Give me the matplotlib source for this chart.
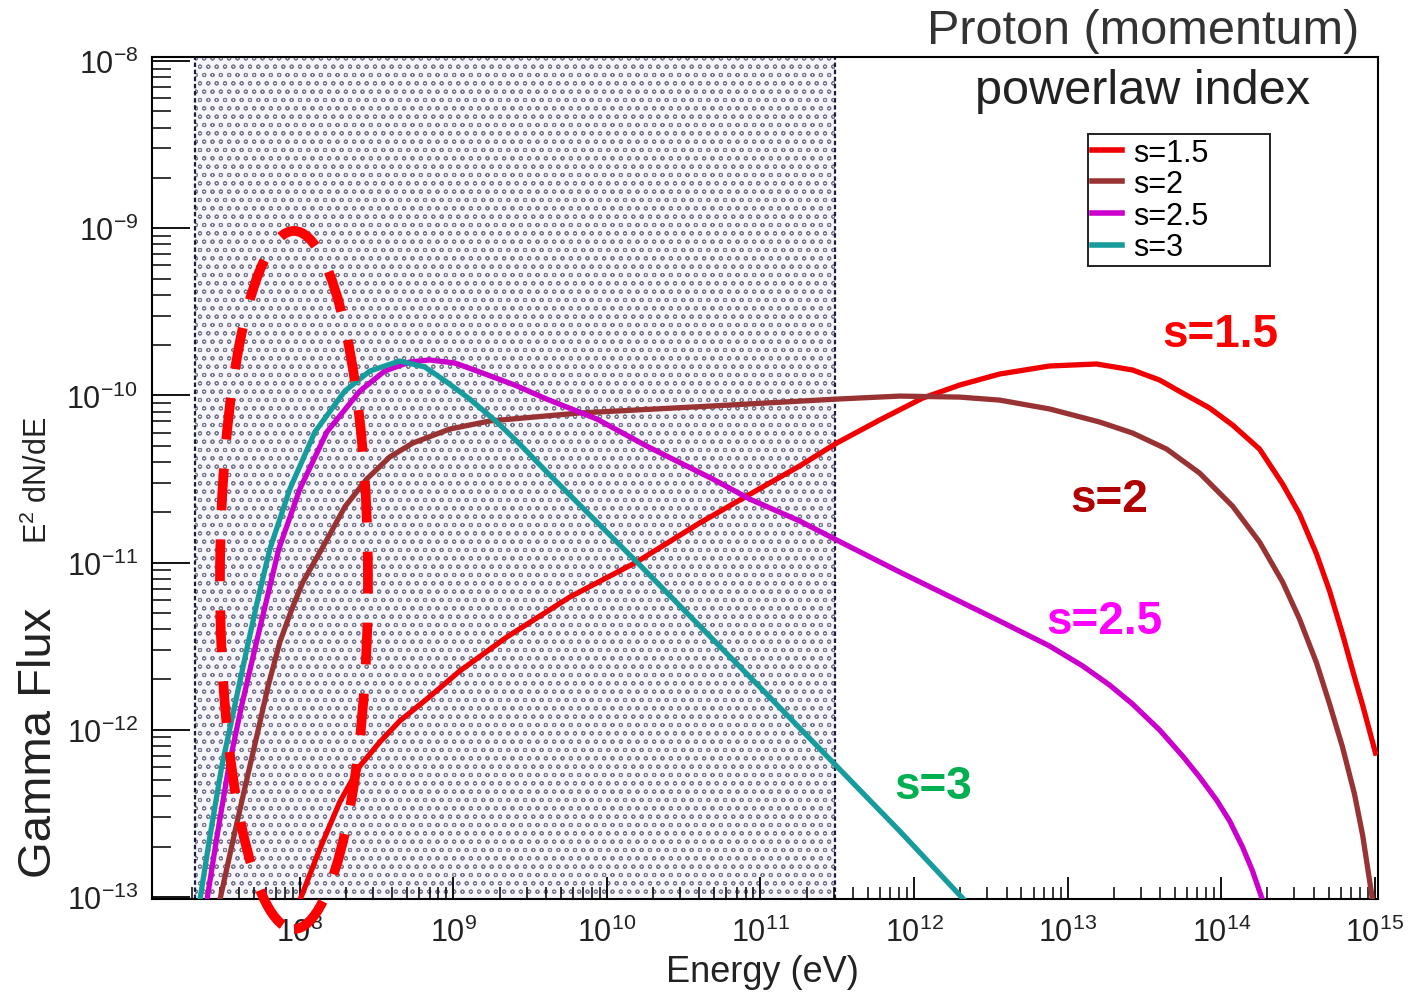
import numpy as np
import matplotlib
matplotlib.use("Agg")
import matplotlib.pyplot as plt
from matplotlib.patches import Ellipse
from matplotlib.ticker import LogLocator, LogFormatterSciNotation, NullFormatter

plt.rcParams['font.family'] = ['Liberation Sans', 'DejaVu Sans']
plt.rcParams['mathtext.fontset'] = 'custom'
plt.rcParams['mathtext.rm'] = 'Liberation Sans'
plt.rcParams['mathtext.it'] = 'Liberation Sans:italic'
plt.rcParams['mathtext.bf'] = 'Liberation Sans:bold'
plt.rcParams['hatch.linewidth'] = 0.7
plt.rcParams['hatch.color'] = '#78788c'

labels = ['s=1.5', 's=2', 's=2.5', 's=3']
line_colors = ['#f00000', '#993333', '#cc00cc', '#169c9c']
text_colors = ['#ff0000', '#b00000', '#ff00ff', '#00b050']

# curves: log10(E/eV) and log10(E^2 dN/dE)
logE_s15 = [8.000, 8.130, 8.260, 8.391, 8.521, 8.651, 8.827, 9.042, 9.348, 9.758, 10.194,
            10.604, 10.910, 11.255, 11.496, 11.776, 12.056, 12.297, 12.557, 12.883, 13.189,
            13.423, 13.599, 13.749, 13.924, 14.074, 14.250, 14.400, 14.510, 14.621, 14.706,
            14.790, 14.868, 14.921, 15.005]
logF_s15 = [-13.02, -12.713, -12.432, -12.217, -12.073, -11.947, -11.816, -11.648, -11.445,
            -11.206, -10.996, -10.763, -10.602, -10.422, -10.285, -10.147, -10.016, -9.938,
            -9.872, -9.824, -9.812, -9.848, -9.908, -9.986, -10.075, -10.177, -10.321,
            -10.530, -10.709, -10.949, -11.170, -11.427, -11.684, -11.852, -12.139]

logE_s20 = [7.479, 7.577, 7.648, 7.720, 7.792, 7.870, 7.948, 8.020, 8.150, 8.293, 8.436,
            8.586, 8.736, 8.977, 9.237, 9.823, 10.689, 11.496, 11.906, 12.297, 12.557,
            12.883, 13.208, 13.423, 13.645, 13.859, 14.074, 14.250, 14.400, 14.510, 14.621,
            14.706, 14.790, 14.868, 14.921, 14.986]
logF_s20 = [-13.02, -12.611, -12.324, -12.037, -11.744, -11.475, -11.278, -11.116, -10.907,
            -10.667, -10.500, -10.368, -10.285, -10.201, -10.153, -10.105, -10.063, -10.022,
            -10.004, -10.010, -10.028, -10.081, -10.159, -10.225, -10.321, -10.464, -10.662,
            -10.877, -11.116, -11.337, -11.600, -11.846, -12.103, -12.384, -12.629, -13.02]

logE_s25 = [7.395, 7.460, 7.538, 7.622, 7.707, 7.785, 7.863, 8.000, 8.176, 8.391, 8.553,
            8.716, 8.846, 9.009, 9.172, 9.400, 9.608, 9.934, 10.259, 10.689, 10.930, 11.255,
            11.496, 11.906, 12.557, 12.883, 13.098, 13.273, 13.423, 13.599, 13.749, 13.859,
            13.970, 14.055, 14.139, 14.204, 14.270]
logF_s25 = [-13.02, -12.641, -12.217, -11.852, -11.517, -11.218, -10.919, -10.560, -10.219,
            -9.974, -9.854, -9.800, -9.788, -9.806, -9.860, -9.938, -10.022, -10.141,
            -10.303, -10.500, -10.620, -10.751, -10.865, -11.056, -11.349, -11.499,
            -11.618, -11.732, -11.846, -12.001, -12.157, -12.282, -12.420, -12.545,
            -12.701, -12.844, -13.02]

logE_s30 = [7.349, 7.414, 7.492, 7.577, 7.655, 7.727, 7.805, 7.935, 8.098, 8.293, 8.456,
            8.651, 8.814, 8.957, 9.107, 9.283, 9.432, 9.608, 9.934, 10.194, 10.604, 11.040,
            11.470, 11.906, 12.329]
logF_s30 = [-13.02, -12.641, -12.217, -11.852, -11.517, -11.218, -10.919, -10.560, -10.219,
            -9.974, -9.854, -9.794, -9.830, -9.920, -10.022, -10.159, -10.291, -10.458,
            -10.757, -10.996, -11.379, -11.786, -12.193, -12.605, -13.02]

# shaded energy band (eV)
band_lo = 2.07e7
band_hi = 3.04e11

fig = plt.figure(figsize=(14.17, 9.95), dpi=100)
ax = fig.add_axes([152/1417, 1 - 900/995, 1226/1417, 842/995])

ax.axvspan(band_lo, band_hi, facecolor='#f5f5fb', hatch='oo', edgecolor='#78788c',
           linewidth=0, zorder=0)
for xb in (band_lo, band_hi):
    ax.axvline(xb, color='#1c1c40', lw=1.6, ls=(0, (2, 1.2)), zorder=1)

curves = [(logE_s15, logF_s15), (logE_s20, logF_s20),
          (logE_s25, logF_s25), (logE_s30, logF_s30)]
for (lx, ly), lab, c in zip(curves, labels, line_colors):
    ax.plot(10**np.array(lx), 10**np.array(ly), color=c, lw=3.8, label=lab, zorder=3,
            solid_joinstyle='round')

ax.set_xscale('log')
ax.set_yscale('log')
ax.set_xlim(1.09e7, 1.05e15)
ax.set_ylim(0.973e-13, 1.057e-8)

ax.xaxis.set_major_locator(LogLocator(base=10, numticks=20))
ax.xaxis.set_minor_locator(LogLocator(base=10, subs=np.arange(2, 10), numticks=20))
ax.yaxis.set_major_locator(LogLocator(base=10, numticks=20))
ax.yaxis.set_minor_locator(LogLocator(base=10, subs=np.arange(2, 10), numticks=20))
ax.xaxis.set_major_formatter(LogFormatterSciNotation())
ax.yaxis.set_major_formatter(LogFormatterSciNotation())
ax.xaxis.set_minor_formatter(NullFormatter())
ax.yaxis.set_minor_formatter(NullFormatter())

ax.tick_params(axis='x', which='major', direction='in', length=16, width=1.3,
               labelsize=22, pad=13, top=False, labelcolor='#222222')
ax.tick_params(axis='x', which='minor', direction='in', length=8.5, width=1.1, top=False)
ax.tick_params(axis='y', which='major', direction='in', length=27, width=1.3,
               labelsize=22, pad=10, right=False, labelcolor='#222222')
ax.tick_params(axis='y', which='minor', direction='in', length=14, width=1.1, right=False)
for sp in ax.spines.values():
    sp.set_linewidth(1.5)

leg = ax.legend(loc='upper left', bbox_to_anchor=(0.7635, 0.7542, 0.1485, 0.1544),
                mode='expand', borderaxespad=0, fontsize=22, handlelength=1.0,
                handletextpad=0.35, labelspacing=0.05, borderpad=0.12, frameon=True,
                fancybox=False, framealpha=1)
leg.get_frame().set_edgecolor('#222222')
leg.get_frame().set_linewidth(1.4)
for h in leg.get_lines():
    h.set_linewidth(4)

# curve labels
label_pos = [(0.871, 0.671), (0.781, 0.475), (0.777, 0.330), (0.637, 0.134)]
for (px, py), lab, c in zip(label_pos, labels, text_colors):
    ax.text(px, py, lab, transform=ax.transAxes, color=c, fontsize=33,
            fontweight='bold', ha='center', va='center', family='Liberation Sans')

# dashed red ellipse highlighting the low energy rise
ell = Ellipse((0.1158, 0.3789), 0.1207, 0.829, transform=ax.transAxes, fill=False,
              edgecolor='#ff0000', lw=7, ls=(0, (4.3, 3)), clip_on=False, zorder=5)
ax.add_patch(ell)

fig.text(1143/1417, 1 - 31/995, 'Proton (momentum)', ha='center', va='center',
         fontsize=35, color='#333333')
fig.text(1143/1417, 1 - 91/995, 'powerlaw index', ha='center', va='center',
         fontsize=35, color='#222222')
fig.text(762/1417, 1 - 973/995, 'Energy (eV)', ha='center', va='center',
         fontsize=26, color='#222222')
fig.text(39/1417, 1 - 743/995, 'Gamma Flux', rotation=90, ha='center', va='center',
         fontsize=34, color='#222222')
fig.text(38/1417, 1 - 480/995, r'E$^{2}$ dN/dE', rotation=90, ha='center', va='center',
         fontsize=22, color='#222222')

fig.savefig('out.png', dpi=100)
